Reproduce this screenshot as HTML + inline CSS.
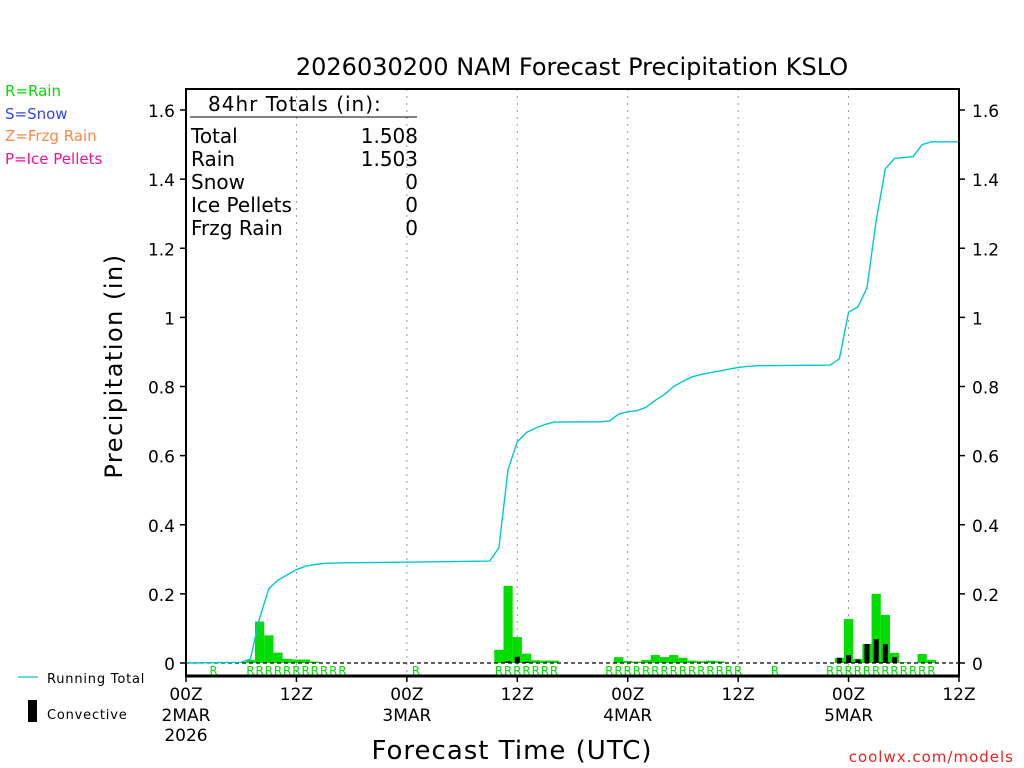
<!DOCTYPE html>
<html><head><meta charset="utf-8"><style>
html,body{margin:0;padding:0;background:#fff;}
svg{display:block;font-family:"DejaVu Sans","Liberation Sans",sans-serif;}
</style></head><body>
<svg id="chart" width="1024" height="768" viewBox="0 0 1024 768" xmlns="http://www.w3.org/2000/svg">
<rect width="1024" height="768" fill="#fff"/>
<text x="572" y="75" font-size="24" text-anchor="middle" fill="#000">2026030200 NAM Forecast Precipitation KSLO</text>
<g font-size="15">
<text x="5" y="96" fill="#00dd00">R=Rain</text>
<text x="5" y="119" fill="#3344ff">S=Snow</text>
<text x="5" y="141" fill="#ff8844">Z=Frzg Rain</text>
<text x="5" y="164" fill="#ee1199">P=Ice Pellets</text>
</g>
<text transform="translate(122,366) rotate(-90)" font-size="24" text-anchor="middle" letter-spacing="1.5">Precipitation (in)</text>
<text x="512" y="759" font-size="26" text-anchor="middle" letter-spacing="1">Forecast Time (UTC)</text>
<text x="1014" y="762" font-size="15" text-anchor="end" fill="#ee2222" letter-spacing="1">coolwx.com/models</text>
<g>
<line x1="18" y1="677" x2="38" y2="677" stroke="#00c8d0" stroke-width="1.2"/>
<text x="47" y="683" font-size="13" letter-spacing="0.8">Running Total</text>
<rect x="28" y="700" width="9" height="22" fill="#000"/>
<text x="47" y="719" font-size="13" letter-spacing="0.8">Convective</text>
</g>
<g id="plot"></g>
<g font-size="20" fill="#000">
<text x="208" y="111" font-size="20" letter-spacing="1">84hr Totals (in):</text>
<line x1="190" y1="117" x2="417" y2="117" stroke="#000" stroke-width="1"/>
<text x="191" y="143">Total</text><text x="418" y="143" text-anchor="end">1.508</text>
<text x="191" y="166">Rain</text><text x="418" y="166" text-anchor="end">1.503</text>
<text x="191" y="189">Snow</text><text x="418" y="189" text-anchor="end">0</text>
<text x="191" y="212">Ice Pellets</text><text x="418" y="212" text-anchor="end">0</text>
<text x="191" y="235">Frzg Rain</text><text x="418" y="235" text-anchor="end">0</text>
</g>
</svg>
<script>
const hours = [];
for (let i = 0; i <= 84; i++) hours.push(i);
const rainHours = [7,8,9,10,11,12,13,14,34,35,36,37,38,39,40,47,48,49,50,51,52,53,54,55,56,57,58,71,72,73,74,75,76,77,78,80,81];
const rainValues = [0.009,0.12,0.08,0.03,0.012,0.01,0.01,0.004,0.038,0.223,0.075,0.027,0.008,0.007,0.007,0.017,0.006,0.004,0.009,0.023,0.017,0.023,0.015,0.007,0.005,0.007,0.005,0.015,0.127,0.012,0.055,0.2,0.139,0.029,0.002,0.026,0.009];
const convHours = [35,36,37,71,72,73,74,75,76,77];
const convValues = [0.005,0.018,0.003,0.015,0.023,0.01,0.055,0.069,0.055,0.017];
const totalHours = [0,6,7,8,9,10,11,12,13,14,15,17,25,33,34,35,36,37,38,39,40,45,46,47,48,49,50,51,52,53,54,55,56,57,58,59,60,61,62,70,71,72,73,74,75,76,77,79,80,81,84];
const totalValues = [0,0.002,0.012,0.13,0.215,0.24,0.255,0.27,0.28,0.285,0.288,0.29,0.292,0.295,0.333,0.56,0.64,0.667,0.68,0.69,0.697,0.698,0.70,0.72,0.727,0.73,0.74,0.76,0.777,0.80,0.815,0.828,0.835,0.84,0.845,0.85,0.855,0.858,0.86,0.862,0.88,1.015,1.03,1.085,1.28,1.43,1.46,1.465,1.5,1.508,1.508];
const typeLabelHours = [3,7,8,9,10,11,12,13,14,15,16,17,25,34,35,36,37,38,39,40,46,47,48,49,50,51,52,53,54,55,56,57,58,59,60,64,70,71,72,73,74,75,76,77,78,79,80,81];
const yTicks = [0,0.2,0.4,0.6,0.8,1,1.2,1.4,1.6];
const xTickHours = [0,12,24,36,48,60,72,84];
const xTickLabels = ["00Z","12Z","00Z","12Z","00Z","12Z","00Z","12Z"];
const xDateLabels = {0:["2MAR","2026"],24:["3MAR"],48:["4MAR"],72:["5MAR"]};

const L=186,R=959,T=89,B=676,Y0=663,Y16=110;
const X = h => L + (R-L)*h/84;
const Y = v => Y0 - (Y0-Y16)*v/1.6;
const NS="http://www.w3.org/2000/svg";
const plot=document.getElementById('plot');
function mk(tag,attrs,parent){const e=document.createElementNS(NS,tag);for(const k in attrs)e.setAttribute(k,attrs[k]);(parent||plot).appendChild(e);return e;}
const bw=(R-L)/84;
xTickHours.forEach((h,i)=>{
  if(h>0&&h<84){const g=mk('line',{x1:X(h),x2:X(h),y1:T,y2:B,stroke:'#999','stroke-dasharray':'2 5','stroke-width':1});
  
  }
});
rainHours.forEach((h,i)=>{
  const r=mk('rect',{x:X(h)-bw/2,y:Y(rainValues[i]),width:bw,height:Y0-Y(rainValues[i]),fill:'#00dd00'});
  
  
});
convHours.forEach((h,i)=>{
  const r=mk('rect',{x:X(h)-2.5,y:Y(convValues[i]),width:5,height:Y0-Y(convValues[i]),fill:'#000'});
  
  
});
const z=mk('line',{x1:L,x2:R,y1:Y0,y2:Y0,stroke:'#000','stroke-dasharray':'4 3','stroke-width':1.2});


const pl=mk('polyline',{points:totalHours.map((h,i)=>X(h)+','+Y(totalValues[i])).join(' '),fill:'none',stroke:'#00c8d0','stroke-width':1.4});


typeLabelHours.forEach(h=>{
  const t=mk('text',{x:X(h),y:675,'font-size':12,'text-anchor':'middle',fill:'#00dd00'});
  t.textContent='R';
  
  
});
const fr=mk('path',{d:`M${L},${T}H${R}V${B}H${L}Z`,fill:'none',stroke:'#000','stroke-width':2});


mk('line',{x1:L,x2:R,y1:B,y2:B,stroke:'#000','stroke-width':3});
yTicks.forEach(v=>{
  mk('line',{x1:L-6,x2:L,y1:Y(v),y2:Y(v),stroke:'#000','stroke-width':1.5});
  mk('line',{x1:R,x2:R+6,y1:Y(v),y2:Y(v),stroke:'#000','stroke-width':1.5});
  const a=mk('text',{x:L-11,y:Y(v)+7,'font-size':17,'text-anchor':'end'});a.textContent=String(v);
  
  
  const b=mk('text',{x:R+13,y:Y(v)+7,'font-size':17,'text-anchor':'start'});b.textContent=String(v);
  
  
});
xTickHours.forEach((h,i)=>{
  mk('line',{x1:X(h),x2:X(h),y1:B,y2:B+6,stroke:'#000','stroke-width':1.5});
  const t=mk('text',{x:X(h),y:700,'font-size':17,'text-anchor':'middle'});t.textContent=xTickLabels[i];
  
  
  (xDateLabels[h]||[]).forEach((s,j)=>{
    const d=mk('text',{x:X(h),y:721+j*20,'font-size':17,'text-anchor':'middle'});d.textContent=s;
    
    
  });
});
</script>
</body></html>
